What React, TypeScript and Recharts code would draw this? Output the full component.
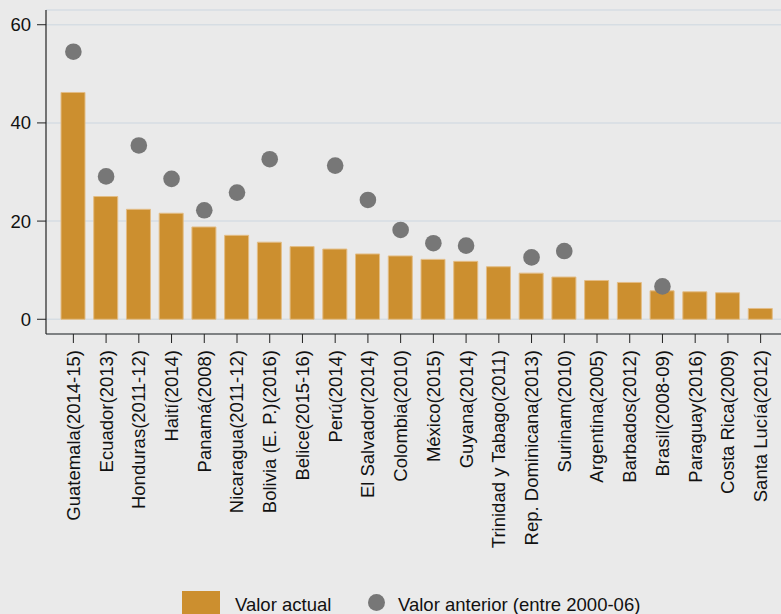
import { ComposedChart, Bar, Line, XAxis, YAxis, CartesianGrid, Legend } from 'recharts';

const paises = [
  'Guatemala(2014-15)', 'Ecuador(2013)', 'Honduras(2011-12)', 'Haití(2014)', 'Panamá(2008)',
  'Nicaragua(2011-12)', 'Bolivia (E. P.)(2016)', 'Belice(2015-16)', 'Perú(2014)', 'El Salvador(2014)',
  'Colombia(2010)', 'México(2015)', 'Guyana(2014)', 'Trinidad y Tabago(2011)', 'Rep. Dominicana(2013)',
  'Surinam(2010)', 'Argentina(2005)', 'Barbados(2012)', 'Brasil(2008-09)', 'Paraguay(2016)',
  'Costa Rica(2009)', 'Santa Lucía(2012)',
];

const valorActual = [
  46.2, 25.0, 22.4, 21.6, 18.8, 17.1, 15.7, 14.8, 14.3, 13.3, 12.9,
  12.2, 11.8, 10.7, 9.4, 8.6, 7.9, 7.5, 5.8, 5.6, 5.4, 2.2,
];

const valorAnterior: (number | null)[] = [
  54.5, 29.1, 35.4, 28.6, 22.2, 25.8, 32.6, null, 31.3, 24.3, 18.2,
  15.5, 15.0, null, 12.6, 13.9, null, null, 6.7, null, null, null,
];

const yTicks = [0, 20, 40, 60];

const FONT = '"Liberation Sans", Arial, sans-serif';
const BAR = '#cc8f2f';
const DOT = '#777777';

const data = paises.map((p, i) => ({ pais: p, actual: valorActual[i], anterior: valorAnterior[i] }));

function PaisTick({ x, y, payload }: { x?: number; y?: number; payload?: { value: string } }) {
  return (
    <text
      x={x}
      y={(y ?? 0) + 5}
      transform={`rotate(-90, ${x}, ${(y ?? 0) + 5})`}
      textAnchor="end"
      dy="0.35em"
      fontSize={18.5}
      fontFamily={FONT}
      fill="#111"
    >
      {payload?.value}
    </text>
  );
}

function Leyenda() {
  return (
    <div style={{ position: 'relative', height: 26, width: 781, fontFamily: FONT, fontSize: 18.5, color: '#111' }}>
      <div style={{ position: 'absolute', left: 182, top: 3, width: 38, height: 30, background: BAR }} />
      <span style={{ position: 'absolute', left: 235, top: 6, lineHeight: '22px', whiteSpace: 'nowrap' }}>Valor actual</span>
      <div style={{ position: 'absolute', left: 368, top: 6, width: 17, height: 17, borderRadius: '50%', background: DOT }} />
      <span style={{ position: 'absolute', left: 398, top: 6, lineHeight: '22px', whiteSpace: 'nowrap' }}>
        Valor anterior (entre 2000-06)
      </span>
    </div>
  );
}

export default function App() {
  return (
    <div style={{ position: 'absolute', left: 0, top: 0, width: 781, height: 614, background: '#eaeaea', overflow: 'hidden' }}>
      <ComposedChart width={781} height={614} data={data} margin={{ top: 10, right: 0, bottom: 0, left: 0 }}>
        <CartesianGrid horizontal vertical={false} stroke="#d6dde3" strokeWidth={1.5} />
        <XAxis
          dataKey="pais"
          interval={0}
          height={254}
          tick={<PaisTick />}
          tickSize={9}
          tickLine={{ stroke: '#222' }}
          axisLine={{ stroke: '#222', strokeWidth: 1.2 }}
          padding={{ left: 11, right: 4 }}
        />
        <YAxis
          domain={[-3, 63]}
          ticks={yTicks}
          width={46}
          tickSize={9}
          tickMargin={6}
          tick={{ fontSize: 18.5, fontFamily: FONT, fill: '#111' }}
          tickLine={{ stroke: '#222' }}
          axisLine={{ stroke: '#222', strokeWidth: 1.2 }}
        />
        <Bar dataKey="actual" barSize={24} fill={BAR} stroke="#e3bd86" strokeWidth={1} isAnimationActive={false} />
        <Line
          dataKey="anterior"
          stroke="none"
          dot={{ r: 8.3, fill: DOT, stroke: 'none' }}
          activeDot={false}
          isAnimationActive={false}
        />
        <Legend verticalAlign="bottom" content={<Leyenda />} wrapperStyle={{ height: 26 }} />
      </ComposedChart>
    </div>
  );
}
